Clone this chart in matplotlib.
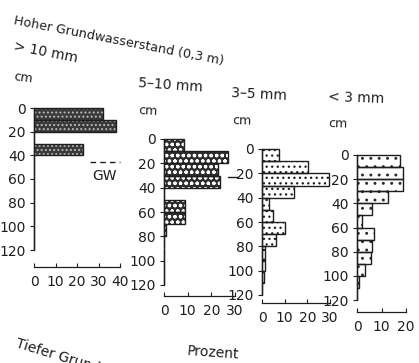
import matplotlib
matplotlib.use("Agg")
import matplotlib.pyplot as plt
import numpy as np

plt.rcParams['font.family'] = ['DejaVu Sans']
plt.rcParams['hatch.linewidth'] = 0.9

# ---- data (depth classes in cm, percentage per class) ----
depth_tops = [0, 10, 20, 30, 40, 50, 60, 70, 80, 90, 100, 110]
pct_gt10 = [32, 38, 0, 23, 0, 0, 0, 0, 0, 0, 0, 0]
pct_5_10 = [8.5, 27, 23, 23.5, 0, 8.7, 9, 1, 0, 0, 0, 0]
pct_3_5 = [7.3, 20.5, 29.4, 14, 3.2, 5, 10, 6.3, 1.5, 1.2, 1, 0]
pct_lt3 = [17.4, 18.8, 18.8, 12.6, 6, 2, 6.8, 6.2, 5.8, 3.3, 1, 0]
panel_titles = ["> 10 mm", "5–10 mm", "3–5 mm", "< 3 mm"]
xmax_list = [40, 30, 30, 20]
y_ticks = [0, 20, 40, 60, 80, 100, 120]
gw_label = "GW"
title_text = "Hoher Grundwasserstand (0,3 m)"
xlabel_text = "Prozent"
bottom_text = "Tiefer Grundwasserstand"

W, H = 419, 363
fig = plt.figure(figsize=(W / 100, H / 100), dpi=100)
fig.patch.set_facecolor('white')

def rect(x0, x1, ytop, ybot):
    return [x0 / W, 1 - ybot / H, (x1 - x0) / W, (ybot - ytop) / H]

# (x at 0, x at xmax, y at 0 cm, y at 120 cm, x-axis offset px)
geoms = [(34, 120, 108, 250, 17), (164, 235, 139, 285, 11),
         (262, 330, 149, 295, 8), (357, 406, 155, 300, 12)]
styles = [
    dict(face='#3a3a3a', hcol='#bdbdbd', hatch='....'),
    dict(face='#2e2e2e', hcol='white', hatch='ooo'),
    dict(face='white', hcol='#1e1e1e', hatch='...'),
    dict(face='white', hcol='#2a2a2a', hatch='..'),
]
data = [pct_gt10, pct_5_10, pct_3_5, pct_lt3]
tc = '#1e1e1e'

axes = []
for i, ((x0, x1, yt, yb, off), vals, st, xm) in enumerate(zip(geoms, data, styles, xmax_list)):
    ax = fig.add_axes(rect(x0, x1, yt, yb))
    ax.set_xlim(0, xm)
    ax.set_ylim(120, 0)
    ax.patch.set_alpha(0)
    tops = np.array(depth_tops)
    v = np.array(vals)
    ax.barh(tops + 5, v, height=10, color=st['face'], edgecolor=st['hcol'],
            hatch=st['hatch'], linewidth=0, clip_on=False)
    ax.barh(tops + 5, v, height=10, fill=False, edgecolor=tc, linewidth=1.0, clip_on=False)
    for s in ['top', 'right']:
        ax.spines[s].set_visible(False)
    ax.spines['left'].set_bounds(0, 120)
    ax.spines['left'].set_color(tc)
    ax.spines['bottom'].set_position(('outward', off * 0.72))
    ax.spines['bottom'].set_color(tc)
    ax.spines['left'].set_linewidth(0.9)
    ax.spines['bottom'].set_linewidth(0.9)
    ax.set_yticks(y_ticks)
    ax.set_xticks(np.arange(0, xm + 1, 10))
    ax.tick_params(axis='y', direction='out', length=3, width=0.8, colors=tc,
                   labelsize=10, pad=3)
    ax.tick_params(axis='x', direction='in', length=3, width=0.8, colors=tc,
                   labelsize=10, pad=6)
    axes.append(ax)

# titles
fig.text(13 / W, 1 - 24 / H, title_text, rotation=-11, fontsize=9.2, color=tc,
         ha='left', va='baseline', rotation_mode='anchor')
tpos = [(13, 50, -11), (138, 87, -4), (231, 97, -3), (328, 101, -2)]
for (x, y, r), t in zip(tpos, panel_titles):
    fig.text(x / W, 1 - y / H, t, rotation=r, fontsize=10, color=tc,
             ha='left', va='baseline', rotation_mode='anchor')
cpos = [(13, 80, -8), (138, 114, -3), (232, 124, -2), (328, 127, -2)]
for x, y, r in cpos:
    fig.text(x / W, 1 - y / H, "cm", rotation=r, fontsize=9, color=tc,
             ha='left', va='baseline', rotation_mode='anchor')

# ground water line
ax1 = axes[0]
ax1.plot([26, 40], [46, 46], ls=(0, (4, 3)), color=tc, lw=1.0, clip_on=False)
ax1.text(27, 61, gw_label, fontsize=10, color=tc, ha='left', va='baseline')
ax2 = axes[1]
ax2.plot([27, 31], [31, 31], color=tc, lw=1.0, clip_on=False)

fig.text(187 / W, 1 - 355 / H, xlabel_text, rotation=-4, fontsize=10, color=tc,
         ha='left', va='baseline', rotation_mode='anchor')
fig.text(15 / W, 1 - 347 / H, bottom_text, rotation=-17, fontsize=10, color=tc,
         ha='left', va='baseline', rotation_mode='anchor')

fig.savefig("out.png", dpi=100, facecolor='white')
